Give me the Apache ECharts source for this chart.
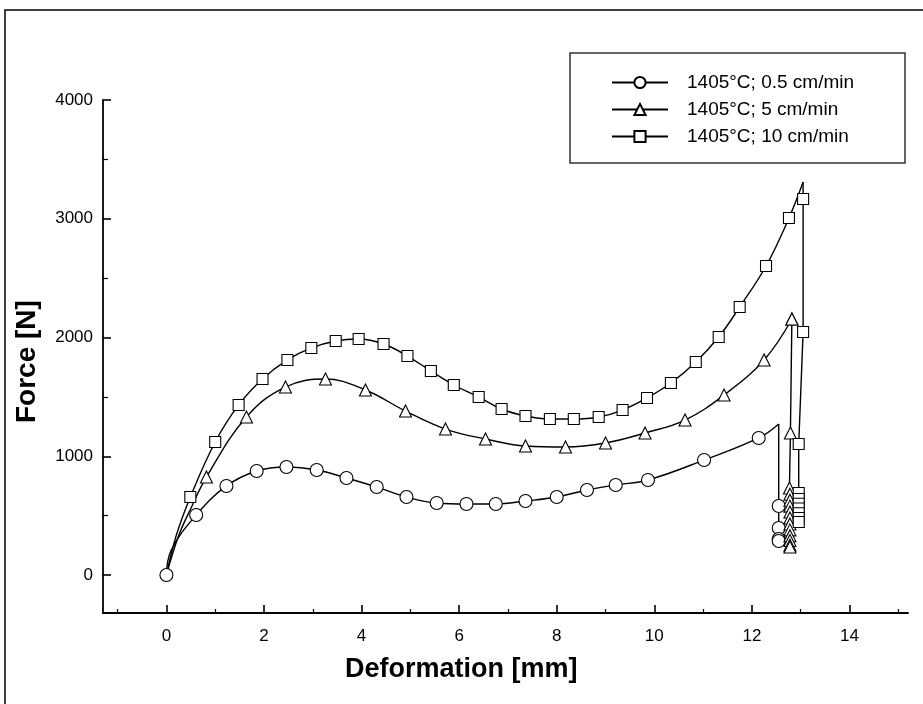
<!DOCTYPE html>
<html>
<head>
<meta charset="utf-8">
<script src="https://cdn.jsdelivr.net/npm/echarts@6/dist/echarts.min.js"></script>
<style>
  html, body { margin: 0; padding: 0; background: #fff; }
  #chart { width: 923px; height: 704px; }
</style>
</head>
<body>
<div id="chart"></div>
<script>
// legend names
const names = ['1405°C; 0.5 cm/min', '1405°C; 5 cm/min', '1405°C; 10 cm/min'];

// axis ticks
const xTicks = [0, 2, 4, 6, 8, 10, 12, 14];
const xMinor = [-1, 1, 3, 5, 7, 9, 11, 13, 15];
const yTicks = [0, 1000, 2000, 3000, 4000];
const yMinor = [500, 1500, 2500, 3500];

// 0.5 cm/min - marker points, curve points without marker, peak and fall
const slowMarks = [[0, 0], [0.61, 505], [1.23, 750], [1.85, 876], [2.46, 910], [3.08, 884], [3.69, 817],
  [4.31, 741], [4.92, 657], [5.54, 606], [6.15, 598], [6.75, 598], [7.36, 623], [8.0, 657], [8.62, 716],
  [9.21, 758], [9.87, 800], [11.02, 968], [12.14, 1154]];
const slowPlain = [[0.1, 210]];
const slowPeak = [12.55, 1272];
const slowFall = [[12.55, 581], [12.55, 396], [12.55, 303], [12.55, 286]];

// 5 cm/min
const midMarks = [[0.82, 825], [1.64, 1331], [2.44, 1583], [3.26, 1650], [4.08, 1558], [4.9, 1381],
  [5.72, 1229], [6.54, 1145], [7.36, 1086], [8.18, 1078], [9.0, 1112], [9.81, 1196], [10.63, 1305],
  [11.43, 1516], [12.25, 1811], [12.82, 2156]];
const midPlain = [[0, 0], [0.25, 330], [0.5, 560]];
const midFall = [[12.79, 1196], [12.77, 733], [12.78, 680], [12.78, 630], [12.78, 580], [12.78, 530],
  [12.78, 480], [12.78, 430], [12.78, 380], [12.78, 330], [12.78, 290], [12.78, 250], [12.78, 236]];

// 10 cm/min
const fastMarks = [[0.49, 657], [1.0, 1120], [1.48, 1432], [1.97, 1651], [2.48, 1811], [2.97, 1912],
  [3.47, 1971], [3.94, 1987], [4.45, 1945], [4.94, 1844], [5.42, 1718], [5.89, 1600], [6.4, 1499],
  [6.87, 1398], [7.36, 1339], [7.86, 1314], [8.35, 1314], [8.86, 1331], [9.35, 1389], [9.85, 1491],
  [10.34, 1617], [10.85, 1794], [11.32, 2004], [11.75, 2257], [12.29, 2602], [12.76, 3006]];
const fastPlain = [[0, 0], [0.2, 330]];
const fastPeak = [13.05, 3309];
const fastFall = [[13.05, 3166], [13.05, 2046], [12.96, 1103], [12.96, 690], [12.96, 640], [12.96, 600],
  [12.96, 560], [12.96, 520], [12.96, 480], [12.96, 446]];

const font = "'Liberation Sans', Arial, sans-serif";

function riseData(marks, plain, peak) {
  const items = marks.map(p => ({ value: p }))
    .concat(plain.map(p => ({ value: p, symbol: 'none' })));
  if (peak) items.push({ value: peak, symbol: 'none' });
  items.sort((a, b) => a.value[0] - b.value[0]);
  return items;
}

function fallData(start, pts, startMarked) {
  const first = startMarked ? { value: start } : { value: start, symbol: 'none' };
  return [first].concat(pts.map(p => ({ value: p })));
}

function lineSeries(name, symbol, size, data, smooth) {
  return {
    name: name,
    type: 'line',
    data: data,
    smooth: smooth,
    symbol: symbol,
    symbolSize: size,
    showAllSymbol: true,
    animation: false,
    lineStyle: { color: '#000', width: 1.4 },
    itemStyle: { color: '#fff', borderColor: '#000', borderWidth: 1.1 },
    emphasis: { disabled: true }
  };
}

const chart = echarts.init(document.getElementById('chart'));

const option = {
  backgroundColor: '#fff',
  animation: false,
  grid: { left: 103, top: 100, right: 15, bottom: 91 },
  legend: {
    data: names,
    orient: 'vertical',
    left: 611,
    top: 73,
    padding: 0,
    itemWidth: 56,
    itemHeight: 14,
    itemGap: 8,
    selectedMode: false,
    textStyle: { fontFamily: font, fontSize: 19, color: '#000', padding: [0, 0, 0, 14] }
  },
  xAxis: [{
    type: 'value',
    min: -1.3,
    max: 15.2,
    axisLine: { onZero: false, lineStyle: { color: '#000', width: 1.8 } },
    axisTick: { inside: true, length: 8, customValues: xTicks, lineStyle: { color: '#000', width: 1.6 } },
    axisLabel: { customValues: xTicks, margin: 15, fontFamily: font, fontSize: 17, color: '#000' },
    splitLine: { show: false }
  }, {
    type: 'value',
    min: -1.3,
    max: 15.2,
    position: 'bottom',
    axisLine: { show: false, onZero: false },
    axisTick: { show: true, inside: true, length: 4, customValues: xMinor, lineStyle: { color: '#000', width: 1.2 } },
    axisLabel: { show: false },
    splitLine: { show: false }
  }],
  yAxis: [{
    type: 'value',
    min: -320,
    max: 4000,
    axisLine: { show: true, onZero: false, lineStyle: { color: '#000', width: 1.8 } },
    axisTick: { show: true, inside: true, length: 8, customValues: yTicks, lineStyle: { color: '#000', width: 1.6 } },
    axisLabel: { customValues: yTicks, margin: 10, fontFamily: font, fontSize: 17, color: '#000', formatter: v => String(v) },
    splitLine: { show: false }
  }, {
    type: 'value',
    min: -320,
    max: 4000,
    position: 'left',
    axisLine: { show: false, onZero: false },
    axisTick: { show: true, inside: true, length: 5, customValues: yMinor, lineStyle: { color: '#000', width: 1.2 } },
    axisLabel: { show: false },
    splitLine: { show: false }
  }],
  graphic: [
    { type: 'rect', shape: { x: 5, y: 10, width: 940, height: 720 }, style: { fill: 'none', stroke: '#000', lineWidth: 1.5 }, silent: true },
    { type: 'rect', shape: { x: 570, y: 53, width: 335, height: 110 }, style: { fill: '#fff', stroke: '#333', lineWidth: 1.5 }, silent: true, z: 0 },
    { type: 'text', left: 345, top: 656, style: { text: 'Deformation [mm]', fontFamily: font, fontSize: 27, fontWeight: 'bold', fill: '#000' } },
    { type: 'text', x: 13, y: 423, rotation: Math.PI / 2, style: { text: 'Force [N]', fontFamily: font, fontSize: 28, fontWeight: 'bold', fill: '#000' } }
  ],
  series: [
    lineSeries(names[0], 'circle', 13, riseData(slowMarks, slowPlain, slowPeak), 0.4),
    lineSeries(names[1], 'triangle', 12, riseData(midMarks, midPlain, null), 0.4),
    lineSeries(names[2], 'rect', 11, riseData(fastMarks, fastPlain, fastPeak), 0.4),
    lineSeries(names[0], 'circle', 13, fallData(slowPeak, slowFall, false), false),
    lineSeries(names[1], 'triangle', 12, fallData(midMarks[midMarks.length - 1], midFall, true), false),
    lineSeries(names[2], 'rect', 11, fallData(fastPeak, fastFall, false), false)
  ]
};

chart.setOption(option);
</script>
</body>
</html>
